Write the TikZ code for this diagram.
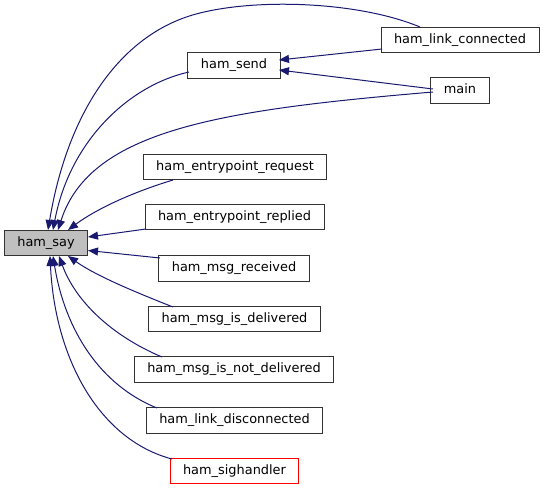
\documentclass[tikz,border=0pt]{standalone}
\usepackage{fontspec}
\setmainfont{DejaVu Sans}
\usetikzlibrary{arrows.meta,calc}
\definecolor{edgeblue}{HTML}{191970}
\definecolor{boxgray}{HTML}{BFBFBF}
\begin{document}
\begin{tikzpicture}[x=1pt,y=-1pt,
  fn/.style={draw=black!80,line width=0.9pt,fill=white,inner xsep=13pt,inner ysep=0pt,
    minimum height=25.5pt,font=\fontsize{12.9}{15}\selectfont,text height=9.5pt,text depth=3pt},
  cur/.style={fn,fill=boxgray},
  bad/.style={fn,draw=red},
  edge/.style={draw=edgeblue,line width=1pt,-{Triangle[length=10pt,width=8pt]}}]
\useasboundingbox (0,0) rectangle (544,490);
\node[cur] (say) at (46,243) {ham\_say};
\node[fn] (send) at (234,65.5) {ham\_send};
\node[fn] (lc) at (460,40) {ham\_link\_connected};
\node[fn] (main) at (460,90.5) {main};
\node[fn] (epreq) at (235,167) {ham\_entrypoint\_request};
\node[fn] (eprep) at (234.5,217) {ham\_entrypoint\_replied};
\node[fn] (mrec) at (234,268.5) {ham\_msg\_received};
\node[fn] (mdel) at (234.5,319) {ham\_msg\_is\_delivered};
\node[fn] (mndel) at (234,369.5) {ham\_msg\_is\_not\_delivered};
\node[fn] (ldis) at (234.5,420.5) {ham\_link\_disconnected};
\node[bad] (sig) at (234.5,471) {ham\_sighandler};
% edges
\draw[edge] ($(lc)+(-40,-13)$) .. controls (360,2) and (260,-2) .. (200,13)
  .. controls (122,32) and (68,110) .. ($(say)+(2,-13)$);
\draw[edge] ($(send)+(-45,6.5)$) .. controls (130,85) and (70,140) .. ($(say)+(7,-13)$);
\draw[edge] ($(main)+(-27,1.5)$) .. controls (220,110) and (90,130) .. ($(say)+(12,-13)$);
\draw[edge] ($(lc)+(-78,9)$) -- ($(send)+(45,-5.5)$);
\draw[edge] ($(main)+(-27,-1.5)$) -- ($(send)+(45,4.5)$);
\draw[edge] ($(epreq)+(-62,13)$) .. controls (130,193) and (95,210) .. ($(say)+(22,-13)$);
\draw[edge] ($(eprep)+(-88.5,12)$) -- ($(say)+(42,-6)$);
\draw[edge] ($(mrec)+(-74,-10.5)$) -- ($(say)+(42,7.5)$);
\draw[edge] ($(mdel)+(-61.5,-12)$) .. controls (130,290) and (95,275) .. ($(say)+(22,13)$);
\draw[edge] ($(mndel)+(-72,-12.5)$) .. controls (110,335) and (75,300) .. ($(say)+(13,13)$);
\draw[edge] ($(ldis)+(-77.5,-12.5)$) .. controls (100,385) and (65,330) .. ($(say)+(7,13)$);
\draw[edge] ($(sig)+(-62.5,-12)$) .. controls (100,440) and (55,360) .. ($(say)+(4,13)$);
\end{tikzpicture}
\end{document}
